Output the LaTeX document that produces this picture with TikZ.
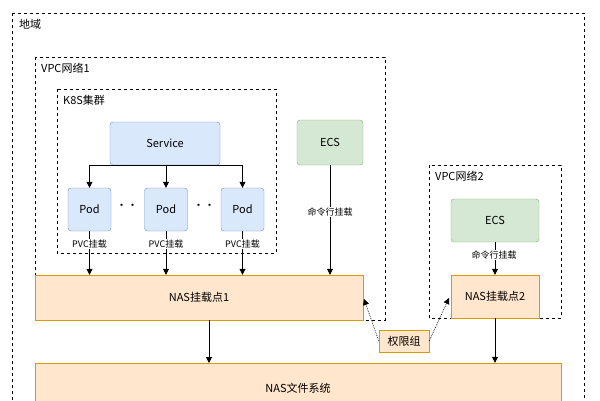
\documentclass[tikz,border=0pt]{standalone}
\usepackage{fontspec}
\setmainfont{Noto Sans CJK SC}
\usetikzlibrary{arrows.meta}
\definecolor{bF}{HTML}{DAE8FC}\definecolor{bS}{HTML}{6C8EBF}
\definecolor{gF}{HTML}{D5E8D4}\definecolor{gS}{HTML}{82B366}
\definecolor{oF}{HTML}{FFE6CC}\definecolor{oS}{HTML}{D79B00}
\begin{document}
\begin{tikzpicture}[x=1pt,y=-1pt,font=\fontsize{11}{13}\selectfont,
 grp/.style={draw,dashed,line width=0.8pt},
 gl/.style={anchor=north west,inner sep=0pt,font=\fontsize{11}{13}\selectfont},
 blue/.style={draw=bS,fill=bF,rounded corners=3pt},
 green/.style={draw=gS,fill=gF,rounded corners=3pt},
 org/.style={draw=oS,fill=oF},
 sm/.style={font=\fontsize{9}{11}\selectfont,inner sep=1pt},
 arr/.style={-{Triangle[length=6pt,width=6pt]},line width=0.8pt}]
\useasboundingbox (0,0) rectangle (600,400);
\draw[grp] (12,13) -- (584,13) -- (584,402);
\draw[grp] (12,13) -- (12,402);
\node[gl] (r) at (19,19) {地域};
\draw[grp] (35,57) rectangle (385,320);
\node[gl] (v1) at (41,63) {VPC网络1};
\draw[grp] (57,89) rectangle (276,253);
\node[gl] (k) at (63,95) {K8S集群};
\draw[grp] (429,165) rectangle (561,318);
\node[gl] (v2) at (435,171) {VPC网络2};
\node[blue,minimum width=110pt,minimum height=43pt] (svc) at (165,143.5) {Service};
\node[blue,minimum width=43pt,minimum height=43pt] (p1) at (89.5,209.5) {Pod};
\node[blue,minimum width=43pt,minimum height=43pt] (p2) at (166,209.5) {Pod};
\node[blue,minimum width=43pt,minimum height=43pt] (p3) at (242.5,209.5) {Pod};
\node (d1) at (127,207) {··};
\node (d2) at (204,207) {··};
\node[green,minimum width=66pt,minimum height=45pt] (e1) at (330,142.5) {ECS};
\node[green,minimum width=88pt,minimum height=43pt] (e2) at (495,220.5) {ECS};
\node[org,minimum width=328pt,minimum height=45pt] (n1) at (199,297.5) {NAS挂载点1};
\node[org,minimum width=88pt,minimum height=43pt] (n2) at (495,296.5) {NAS挂载点2};
\node[org,minimum width=526pt,minimum height=50pt] (fs) at (298,388) {NAS文件系统};
\node[org,minimum width=50pt,minimum height=22pt] (q) at (404,341) {权限组};
\foreach \p in {p1,p2,p3}{
 \draw[arr] (svc.south) -| (\p.north);
 \draw[arr] (\p.south) -- (\p.south |- n1.north);
 \node[sm,fill=white] at ([yshift=-13pt]\p.south) {PVC挂载};}
\draw[arr] (e1.south) -- (e1.south |- n1.north);
\node[sm,fill=white] (l1) at (330,212) {命令行挂载};
\draw[arr] (e2.south) -- (n2.north);
\node[sm,fill=white] (l2) at (494,255) {命令行挂载};
\draw[arr] (209,320) -- (209,363);
\draw[arr] (n2.south) -- (n2.south |- fs.north);
\draw[arr,densely dotted,line width=0.6pt] (q.west) -- (364,299);
\draw[arr,densely dotted,line width=0.6pt] (q.east) -- (449,298);
\end{tikzpicture}
\end{document}
